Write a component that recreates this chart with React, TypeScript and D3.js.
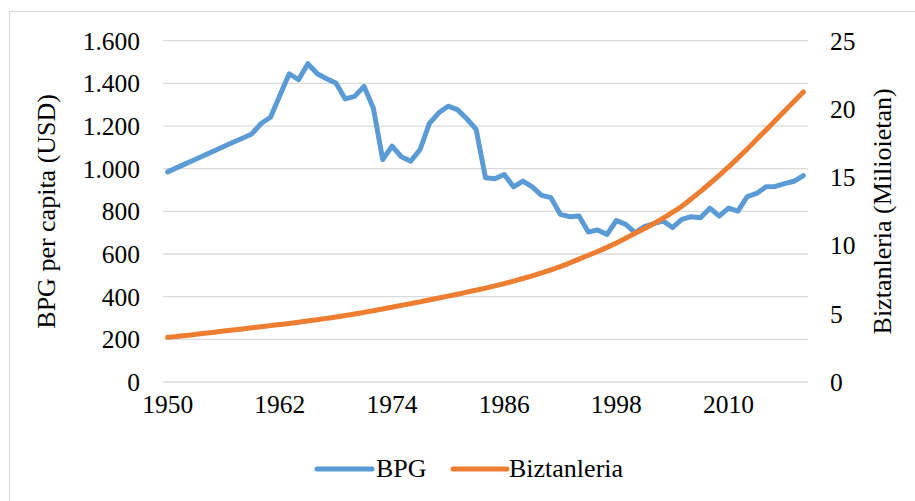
import React from 'react';
import * as d3 from 'd3';

// years on the category axis (one point per year)
const years: number[] = d3.range(1950, 2019);

// BPG per capita (USD), left axis
const bpg: number[] = [
  985, 1005, 1025, 1044, 1064, 1084, 1104, 1124, 1143, 1163,
  1212, 1241, 1343, 1445, 1417, 1492, 1445, 1422, 1402, 1327,
  1339, 1386, 1285, 1043, 1106, 1056, 1035, 1090, 1212, 1262,
  1293, 1277, 1234, 1184, 957, 953, 973, 915, 942, 915,
  875, 864, 786, 775, 778, 703, 713, 692, 757, 739,
  700, 728, 742, 755, 724, 762, 775, 770, 815, 778,
  815, 801, 869, 884, 915, 917, 930, 941, 968,
];

// Biztanleria (milioietan), right axis
const biztanleria: number[] = [
  3.27, 3.34, 3.41, 3.49, 3.57, 3.65, 3.73, 3.81, 3.89, 3.97,
  4.05, 4.13, 4.21, 4.29, 4.38, 4.47, 4.56, 4.66, 4.76, 4.87,
  4.98, 5.10, 5.22, 5.35, 5.48, 5.61, 5.74, 5.87, 6.01, 6.15,
  6.29, 6.43, 6.58, 6.73, 6.88, 7.04, 7.21, 7.39, 7.58, 7.78,
  7.99, 8.21, 8.45, 8.72, 9.00, 9.28, 9.56, 9.86, 10.18, 10.53,
  10.89, 11.24, 11.60, 12.00, 12.42, 12.88, 13.40, 13.96, 14.54, 15.14,
  15.76, 16.40, 17.06, 17.76, 18.45, 19.15, 19.85, 20.55, 21.25,
];

const xTickLabels: number[] = [1950, 1962, 1974, 1986, 1998, 2010];
const leftTicks: number[] = [0, 200, 400, 600, 800, 1000, 1200, 1400, 1600];
const rightTicks: number[] = [0, 5, 10, 15, 20, 25];

const seriesNames = ['BPG', 'Biztanleria'];
const colors = ['#5B9BD5', '#ED7D31'];

const W = 915;
const H = 501;
const FONT = "'Liberation Serif', 'Times New Roman', Times, serif";

const fmt = d3.formatLocale({
  decimal: ',',
  thousands: '.',
  grouping: [3],
  currency: ['', ''],
}).format(',');

export default function App() {
  const x = d3.scaleBand<number>().domain(years).range([163, 808]).padding(0);
  const cx = (yr: number) => (x(yr) as number) + x.bandwidth() / 2;
  const yL = d3.scaleLinear().domain([0, 1600]).range([382, 40.7]);
  const yR = d3.scaleLinear().domain([0, 25]).range([382, 40.7]);

  const bpgLine = d3
    .line<number>()
    .x((_, i) => cx(years[i]))
    .y((d) => yL(d))
    .curve(d3.curveLinear);
  const popLine = d3
    .line<number>()
    .x((_, i) => cx(years[i]))
    .y((d) => yR(d))
    .curve(d3.curveMonotoneX);

  const midY = (yL(0) + yL(1600)) / 2;
  const txt = { fontFamily: FONT, fill: '#000' } as React.CSSProperties;

  return (
    <svg
      width={W}
      height={H}
      style={{ position: 'absolute', left: 0, top: 0, background: '#fff', fontFamily: FONT }}
    >
      <rect x={9.5} y={11.5} width={W} height={H} fill="#fff" stroke="#d9d9d9" strokeWidth={1.3} />

      {/* gridlines */}
      {leftTicks.map((t) => (
        <line key={t} x1={163} x2={808} y1={yL(t)} y2={yL(t)} stroke="#d9d9d9" strokeWidth={1.3} />
      ))}

      {/* left axis labels */}
      {leftTicks.map((t) => (
        <text key={t} x={140} y={yL(t)} dy="0.35em" textAnchor="end" fontSize={25.5} style={txt}>
          {fmt(t)}
        </text>
      ))}

      {/* right axis labels */}
      {rightTicks.map((t) => (
        <text key={t} x={830} y={yR(t)} dy="0.35em" textAnchor="start" fontSize={25.5} style={txt}>
          {t}
        </text>
      ))}

      {/* x labels */}
      {xTickLabels.map((yr) => (
        <text key={yr} x={cx(yr)} y={413} textAnchor="middle" fontSize={25.5} style={txt}>
          {yr}
        </text>
      ))}

      {/* axis titles */}
      <text
        transform={`translate(55,${midY}) rotate(-90)`}
        textAnchor="middle"
        fontSize={26}
        style={txt}
      >
        BPG per capita (USD)
      </text>
      <text
        transform={`translate(891,${midY}) rotate(-90)`}
        textAnchor="middle"
        fontSize={26}
        style={txt}
      >
        Biztanleria (Milioietan)
      </text>

      {/* series */}
      <path d={bpgLine(bpg) || ''} fill="none" stroke={colors[0]} strokeWidth={5} strokeLinejoin="round" strokeLinecap="round" />
      <path d={popLine(biztanleria) || ''} fill="none" stroke={colors[1]} strokeWidth={5} strokeLinejoin="round" strokeLinecap="round" />

      {/* legend */}
      <line x1={317} x2={372} y1={469} y2={469} stroke={colors[0]} strokeWidth={5} strokeLinecap="round" />
      <text x={376} y={477} fontSize={26} style={txt}>{seriesNames[0]}</text>
      <line x1={453} x2={507} y1={469} y2={469} stroke={colors[1]} strokeWidth={5} strokeLinecap="round" />
      <text x={509} y={477} fontSize={26} style={txt}>{seriesNames[1]}</text>
    </svg>
  );
}
